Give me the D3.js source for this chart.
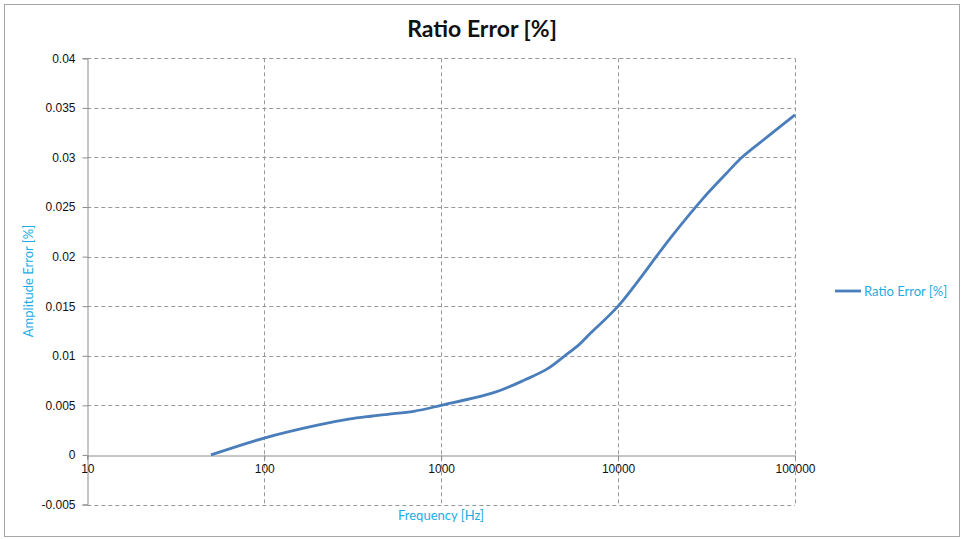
<!DOCTYPE html>
<html>
<head>
<meta charset="utf-8">
<script src="https://cdn.jsdelivr.net/npm/d3@7"></script>
<style>
  body { margin: 0; background: #fff; }
  svg text { font-family: "Liberation Sans", Arial, sans-serif; }
</style>
</head>
<body>
<div id="chart"></div>
<script>
const freqs = [50, 100, 200, 300, 400, 500, 700, 1000, 2000, 3000, 4000, 5000, 6000, 7000,
    10000, 20000, 30000, 40000, 50000, 70000, 100000];
const ratioError = [0, 0.0017, 0.0030, 0.0036, 0.0039, 0.0041, 0.0044, 0.0050, 0.0063, 0.0076,
    0.0087, 0.0100, 0.0111, 0.0123, 0.0150, 0.0220, 0.0258, 0.0282, 0.0300, 0.0321, 0.0343];
const xTicks = [10, 100, 1000, 10000, 100000];
const yTicks = [-0.005, 0, 0.005, 0.01, 0.015, 0.02, 0.025, 0.03, 0.035, 0.04];
const seriesName = 'Ratio Error [%]';

const width = 962, height = 539;
const margin = { top: 58.3, right: 167, bottom: 34, left: 87.3 };
const gridColor = '#999';
const lineColor = '#4a7ebb';
const labelColor = '#1cade4';

const svg = d3.select('#chart').append('svg')
    .attr('width', width)
    .attr('height', height);

svg.append('rect')
    .attr('x', 4.5).attr('y', 4.5)
    .attr('width', 955).attr('height', 532)
    .attr('fill', '#fff')
    .attr('stroke', '#a6a6a6');

const x = d3.scaleLog().domain([10, 100000])
    .range([margin.left, width - margin.right]);
const y = d3.scaleLinear().domain([-0.005, 0.04])
    .range([height - margin.bottom - 0.5, margin.top]);

// horizontal grid
svg.append('g')
    .selectAll('line')
    .data(yTicks.filter(d => d !== 0))
    .enter().append('line')
    .attr('x1', x(10)).attr('x2', x(100000))
    .attr('y1', d => Math.round(y(d)) + 0.5).attr('y2', d => Math.round(y(d)) + 0.5)
    .attr('stroke', gridColor)
    .attr('stroke-dasharray', '4,3');

// vertical grid
svg.append('g')
    .selectAll('line')
    .data(xTicks.filter(d => d !== 10))
    .enter().append('line')
    .attr('x1', d => Math.round(x(d)) + 0.5).attr('x2', d => Math.round(x(d)) + 0.5)
    .attr('y1', y(0.04)).attr('y2', y(-0.005))
    .attr('stroke', gridColor)
    .attr('stroke-dasharray', '4,3');

// y axis
const yAxis = svg.append('g')
    .attr('transform', `translate(${Math.round(x(10)) + 0.5},0)`)
    .call(d3.axisLeft(y).tickValues(yTicks).tickSize(5).tickPadding(7)
        .tickFormat(d => String(+d.toFixed(3))));
yAxis.select('.domain').attr('stroke', '#8c8c8c');
yAxis.selectAll('.tick line').attr('stroke', '#8c8c8c');
yAxis.selectAll('text').attr('font-size', 12).attr('fill', '#111')
    .style('font-family', '"Liberation Sans", Arial, sans-serif');

// x axis at zero
const xAxis = svg.append('g')
    .attr('transform', `translate(0,${Math.round(y(0)) + 0.5})`)
    .call(d3.axisBottom(x).tickValues(xTicks).tickSize(4).tickPadding(5)
        .tickFormat(d3.format('d')));
xAxis.select('.domain').attr('stroke', '#8c8c8c');
xAxis.selectAll('.tick line').attr('stroke', '#8c8c8c');
xAxis.selectAll('text').attr('font-size', 12).attr('fill', '#111')
    .style('font-family', '"Liberation Sans", Arial, sans-serif');

// series
const line = d3.line()
    .x((d, i) => x(freqs[i]))
    .y(d => y(d))
    .curve(d3.curveCatmullRom.alpha(0.5));

svg.append('path')
    .datum(ratioError)
    .attr('d', line)
    .attr('fill', 'none')
    .attr('stroke', lineColor)
    .attr('stroke-width', 2.8)
    .attr('stroke-linejoin', 'round');

// title
svg.append('text')
    .attr('x', 482).attr('y', 37)
    .attr('text-anchor', 'middle')
    .style('font-family', 'Lato, sans-serif')
    .attr('font-size', 23)
    .attr('font-weight', 'bold')
    .attr('fill', '#111')
    .text('Ratio Error [%]');

// axis titles
svg.append('text')
    .attr('transform', 'translate(33,281) rotate(-90)')
    .attr('text-anchor', 'middle')
    .style('font-family', 'Lato, sans-serif')
    .attr('font-size', 13)
    .attr('fill', labelColor)
    .text('Amplitude Error [%]');

svg.append('text')
    .attr('x', 441).attr('y', 520)
    .attr('text-anchor', 'middle')
    .style('font-family', 'Lato, sans-serif')
    .attr('font-size', 13)
    .attr('fill', labelColor)
    .text('Frequency [Hz]');

// legend
const legend = svg.append('g').attr('transform', 'translate(835,291)');
legend.append('line')
    .attr('x1', 0).attr('x2', 26)
    .attr('stroke', lineColor)
    .attr('stroke-width', 2.8);
legend.append('text')
    .attr('x', 29).attr('y', 4.5)
    .style('font-family', 'Lato, sans-serif')
    .attr('font-size', 13)
    .attr('fill', labelColor)
    .text(seriesName);
</script>
</body>
</html>
